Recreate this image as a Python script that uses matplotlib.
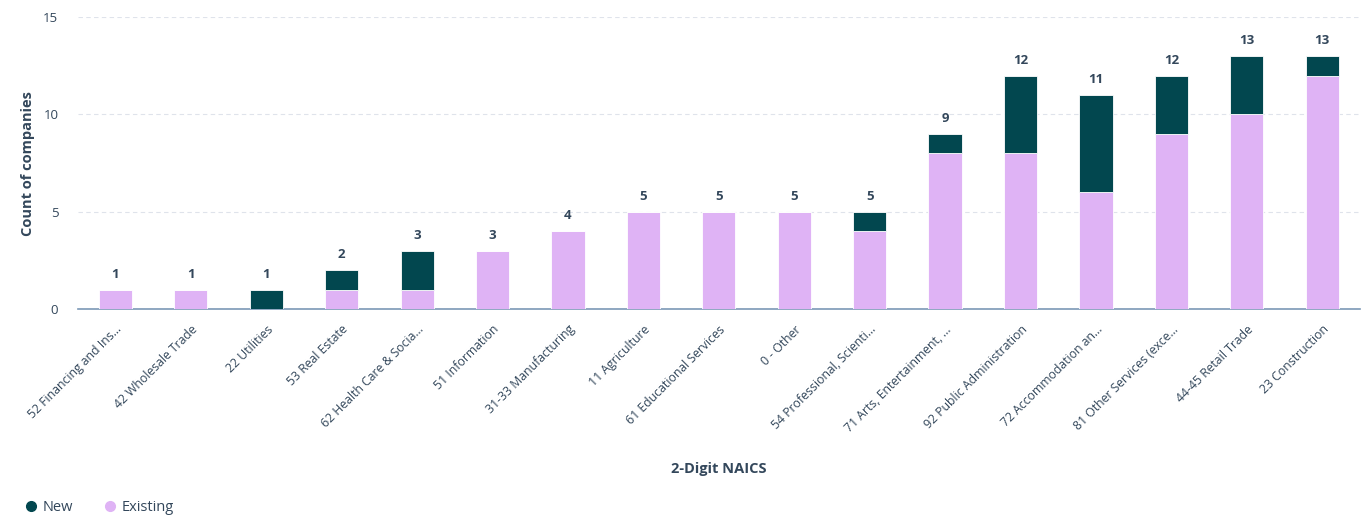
import matplotlib
matplotlib.use("Agg")
import matplotlib.pyplot as plt
from matplotlib.lines import Line2D
import numpy as np

categories = [
    "52 Financing and Ins...", "42 Wholesale Trade", "22 Utilities", "53 Real Estate",
    "62 Health Care & Socia...", "51 Information", "31-33 Manufacturing", "11 Agriculture",
    "61 Educational Services", "0 - Other", "54 Professional, Scienti...",
    "71 Arts, Entertainment, ...", "92 Public Administration", "72 Accommodation an...",
    "81 Other Services (exce...", "44-45 Retail Trade", "23 Construction",
]
existing = [1, 1, 0, 1, 1, 3, 4, 5, 5, 5, 4, 8, 8, 6, 9, 10, 12]
new = [0, 0, 1, 1, 2, 0, 0, 0, 0, 0, 1, 1, 4, 5, 3, 3, 1]
y_ticks = [0, 5, 10, 15]

plt.rcParams['font.family'] = ['Open Sans', 'DejaVu Sans']

C_NEW = "#02474f"
C_EX = "#dfb3f5"
TXT = "#33475b"

fig = plt.figure(figsize=(13.64, 5.21), dpi=100)
ax = fig.add_axes([0.057, 0.407, 0.940, 0.560])

x = np.arange(len(categories))
w = 0.44
ax.bar(x, existing, w, color=C_EX, edgecolor="white", linewidth=0.6, zorder=3)
ax.bar(x, new, w, bottom=existing, color=C_NEW, edgecolor="white", linewidth=0.6, zorder=3)

totals = [e + n for e, n in zip(existing, new)]
for xi, t in zip(x, totals):
    ax.text(xi, t + 0.45, str(t), ha="center", va="bottom", fontsize=9.5,
            fontweight="bold", color=TXT)

ax.set_xlim(-0.5, len(categories) - 0.5)
ax.set_ylim(0, 15)
ax.set_yticks(y_ticks)
ax.set_yticklabels([str(v) for v in y_ticks], fontsize=9.5, color=TXT)
ax.grid(axis="y", linestyle=(0, (4, 3)), color="#dfe3eb", linewidth=0.8, zorder=0)
ax.set_axisbelow(True)
for s in ["top", "right", "left"]:
    ax.spines[s].set_visible(False)
ax.spines["bottom"].set_color("#7c98b6")
ax.spines["bottom"].set_linewidth(1.2)
ax.tick_params(axis="both", length=0)
ax.tick_params(axis="y", pad=14)

ax.set_xticks(x)
ax.set_xticklabels(categories, rotation=45, ha="right", rotation_mode="anchor",
                   fontsize=8.8, color=TXT)
ax.tick_params(axis="x", pad=10)

ax.set_ylabel("Count of companies", fontsize=10.5, fontweight="bold", color=TXT, labelpad=6)
ax.set_xlabel("2-Digit NAICS", fontsize=10.5, fontweight="bold", color=TXT, labelpad=20)

handles = [
    Line2D([0], [0], marker="o", linestyle="", markerfacecolor=C_NEW, markeredgecolor=C_NEW, markersize=7),
    Line2D([0], [0], marker="o", linestyle="", markerfacecolor=C_EX, markeredgecolor=C_EX, markersize=7),
]
fig.legend(handles, ["New", "Existing"], loc="center left", bbox_to_anchor=(0.008, 0.025),
           ncol=2, frameon=False, fontsize=10.5, labelcolor=TXT, handletextpad=0.3,
           columnspacing=2.0, handlelength=1.0)

fig.savefig("out.png", dpi=100)
